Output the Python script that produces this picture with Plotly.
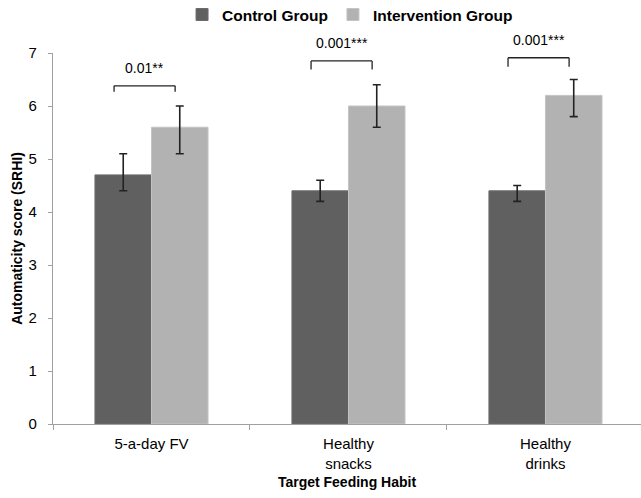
import plotly.graph_objects as go

categories = ["5-a-day FV", "Healthy<br>snacks", "Healthy<br>drinks"]
control = [4.7, 4.4, 4.4]
control_err_plus = [0.4, 0.2, 0.1]
control_err_minus = [0.3, 0.2, 0.2]
intervention = [5.6, 6.0, 6.2]
intervention_err_plus = [0.4, 0.4, 0.3]
intervention_err_minus = [0.5, 0.4, 0.4]
p_labels = ["0.01**", "0.001***", "0.001***"]
bracket_top = [6.38, 6.85, 6.91]
bracket_drop = [0.11, 0.16, 0.17]

FONT = "Liberation Sans, Arial, sans-serif"
DARK = "#606060"
LIGHT = "#b2b2b2"
AXIS = "#a0a0a0"

fig = go.Figure()
fig.add_trace(go.Bar(
    name="Control Group", x=categories, y=control,
    marker=dict(color=DARK, line=dict(color="#6c6c6c", width=1)),
    error_y=dict(type="data", symmetric=False, array=control_err_plus,
                 arrayminus=control_err_minus, color="#222222", thickness=1.6, width=4),
))
fig.add_trace(go.Bar(
    name="Intervention Group", x=categories, y=intervention,
    marker=dict(color=LIGHT, line=dict(color="#c4c4c4", width=1)),
    error_y=dict(type="data", symmetric=False, array=intervention_err_plus,
                 arrayminus=intervention_err_minus, color="#222222", thickness=1.6, width=4),
))

left_off, right_off = -0.19, 0.12
for i, (lab, top, drop) in enumerate(zip(p_labels, bracket_top, bracket_drop)):
    x0, x1 = i + left_off, i + right_off
    line = dict(color="#222222", width=1.3)
    fig.add_shape(type="line", xref="x", yref="y", x0=x0, x1=x0, y0=top - drop, y1=top, line=line)
    fig.add_shape(type="line", xref="x", yref="y", x0=x0, x1=x1, y0=top, y1=top, line=line)
    fig.add_shape(type="line", xref="x", yref="y", x0=x1, x1=x1, y0=top - drop, y1=top, line=line)
    fig.add_annotation(x=(x0 + x1) / 2, y=top, xref="x", yref="y", text=lab,
                       showarrow=False, yanchor="bottom", yshift=8,
                       font=dict(family=FONT, size=14, color="#000"))

fig.update_layout(
    width=641, height=498,
    margin=dict(l=53, r=0, t=53, b=74),
    paper_bgcolor="white", plot_bgcolor="white",
    barmode="group", bargap=0.426, bargroupgap=0,
    font=dict(family=FONT, size=15, color="#000"),
    showlegend=True,
    legend=dict(orientation="h", xref="container", yref="container",
                x=0.284, xanchor="left", y=0.97, yanchor="middle",
                font=dict(family=FONT, size=15.5, color="#000", weight="bold"),
                bgcolor="rgba(0,0,0,0)", traceorder="normal"),
    xaxis=dict(
        type="category", range=[-0.5, 2.485], automargin=False,
        showline=True, linecolor=AXIS, linewidth=1.2,
        ticks="outside", tickson="boundaries", ticklen=5, tickcolor=AXIS,
        ticklabelstandoff=6,
        tickfont=dict(family=FONT, size=15, color="#000"),
        title=dict(text="Target Feeding Habit", standoff=6,
                   font=dict(family=FONT, size=14, color="#000", weight="bold")),
        showgrid=False, zeroline=False,
    ),
    yaxis=dict(
        range=[0, 7], dtick=1, automargin=False,
        showline=True, linecolor=AXIS, linewidth=1.2,
        ticks="outside", ticklen=4, tickcolor=AXIS,
        ticklabelstandoff=8,
        tickfont=dict(family=FONT, size=15, color="#000"),
        title=dict(text="Automaticity score (SRHI)", standoff=2,
                   font=dict(family=FONT, size=14, color="#000", weight="bold")),
        showgrid=False, zeroline=False,
    ),
)

fig.write_html("out.html", config={"displayModeBar": False},
               post_script="document.body.style.margin='0';")
